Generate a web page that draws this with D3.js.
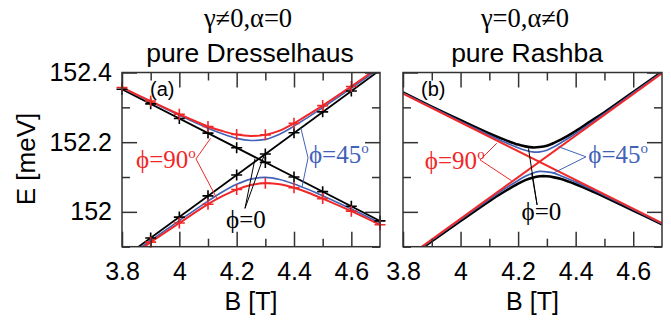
<!DOCTYPE html>
<html>
<head>
<meta charset="utf-8">
<script src="https://cdn.jsdelivr.net/npm/d3@7/dist/d3.min.js"></script>
<style>
  body { margin: 0; background: #fff; }
</style>
</head>
<body>
<div id="chart"></div>
<script>
// ---- data ----
const xMajor = [3.8, 4.0, 4.2, 4.4, 4.6];
const xMinor = [3.9, 4.1, 4.3, 4.5];
const yMajor = [152, 152.2, 152.4];
const yMinor = [151.9, 152.1, 152.3];

// panel (a): pure Dresselhaus
const bGridA = [3.8, 3.9, 4.0, 4.1, 4.15, 4.2, 4.25, 4.3, 4.35, 4.4, 4.45, 4.5, 4.6, 4.7];
const dressRedUpper  = [152.357, 152.318, 152.280, 152.245, 152.232, 152.222, 152.218, 152.221, 152.233, 152.254, 152.279, 152.305, 152.360, 152.418];
const dressRedLower  = [151.855, 151.913, 151.968, 152.022, 152.045, 152.064, 152.077, 152.082, 152.079, 152.069, 152.055, 152.038, 152.002, 151.963];
const dressBlueUpper = [152.356, 152.316, 152.277, 152.240, 152.224, 152.211, 152.205, 152.208, 152.223, 152.246, 152.272, 152.299, 152.355, 152.413];
const dressBlueLower = [151.859, 151.918, 151.975, 152.031, 152.057, 152.079, 152.094, 152.099, 152.093, 152.080, 152.064, 152.046, 152.008, 151.968];
const lineEndsB = [3.8, 4.7];
const dressBlackDown = [152.352, 151.974];
const dressBlackUp   = [151.865, 152.407];

const markB = [3.8, 3.9, 4.0, 4.1, 4.2, 4.3, 4.4, 4.5, 4.6, 4.7];
const markBlackDown = [152.352, 152.310, 152.268, 152.226, 152.184, 152.142, 152.100, 152.058, 152.016, 151.974];
const markBlackUp   = [151.865, 151.925, 151.985, 152.046, 152.106, 152.166, 152.227, 152.287, 152.347, 152.407];
const markRedUpper  = [152.357, 152.318, 152.280, 152.245, 152.222, 152.221, 152.254, 152.305, 152.360, 152.418];
const markRedLower  = [151.855, 151.913, 151.968, 152.022, 152.064, 152.082, 152.069, 152.038, 152.002, 151.963];

// panel (b): pure Rashba
const bGridB = [3.8, 3.9, 4.0, 4.1, 4.15, 4.2, 4.225, 4.25, 4.275, 4.3, 4.325, 4.35, 4.4, 4.45, 4.5, 4.6, 4.7];
const rashBlackUpper = [152.343, 152.302, 152.263, 152.225, 152.208, 152.193, 152.188, 152.185, 152.186, 152.190, 152.198, 152.208, 152.232, 152.259, 152.286, 152.344, 152.402];
const rashBlackLower = [151.857, 151.916, 151.974, 152.031, 152.057, 152.081, 152.091, 152.098, 152.102, 152.102, 152.099, 152.094, 152.079, 152.062, 152.043, 152.004, 151.964];
const rashBlueUpper  = [152.341, 152.300, 152.259, 152.220, 152.201, 152.184, 152.177, 152.172, 152.172, 152.177, 152.187, 152.199, 152.225, 152.253, 152.282, 152.341, 152.400];
const rashBlueLower  = [151.859, 151.919, 151.978, 152.036, 152.064, 152.090, 152.102, 152.111, 152.116, 152.115, 152.111, 152.103, 152.086, 152.067, 152.047, 152.007, 151.966];
const rashRedDown = [152.339, 151.968];
const rashRedUp   = [151.861, 152.398];

// ---- layout ----
const W = 671, H = 322;
const RED = "#f02828", BLUE = "#4262b8", BLACK = "#000";
const SANS = "'Liberation Sans', Arial, Helvetica, sans-serif";
const SERIF = "'Liberation Serif', 'Times New Roman', 'DejaVu Serif', serif";

const svg = d3.select("#chart").append("svg")
  .attr("width", W).attr("height", H)
  .style("font-family", SANS);

const y = d3.scaleLinear().domain([151.9, 152.4]).range([246.7, 72.5]);
const xA = d3.scaleLinear().domain([3.8, 4.7]).range([122, 380]);
const xB = d3.scaleLinear().domain([3.8, 4.7]).range([403, 662]);

function drawAxes(x, showYLabels) {
  const [x0, x1] = x.range();
  const yBot = y.range()[0], yTop = y.range()[1];
  const g = svg.append("g");
  const tidy = sel => {
    sel.select(".domain").remove();
    sel.selectAll(".tick line").attr("stroke", "#333").attr("stroke-width", 1.5);
    sel.attr("font-family", SANS).attr("font-size", 25);
    sel.selectAll(".tick text").attr("fill", "#000");
  };
  const none = () => "";

  g.append("g").attr("transform", `translate(0,${yBot})`)
    .call(d3.axisBottom(x).tickValues(xMinor).tickSizeInner(-8).tickSizeOuter(0).tickFormat(none)).call(tidy);
  g.append("g").attr("transform", `translate(0,${yBot})`)
    .call(d3.axisBottom(x).tickValues(xMajor).tickSizeInner(-15).tickSizeOuter(0)
      .tickPadding(15.5).tickFormat(d3.format("~g"))).call(tidy);
  g.append("g").attr("transform", `translate(0,${yTop})`)
    .call(d3.axisTop(x).tickValues(xMinor).tickSizeInner(-8).tickSizeOuter(0).tickFormat(none)).call(tidy);
  g.append("g").attr("transform", `translate(0,${yTop})`)
    .call(d3.axisTop(x).tickValues(xMajor).tickSizeInner(-15).tickSizeOuter(0).tickFormat(none)).call(tidy);

  g.append("g").attr("transform", `translate(${x0},0)`)
    .call(d3.axisLeft(y).tickValues(yMinor).tickSizeInner(-8).tickSizeOuter(0).tickFormat(none)).call(tidy);
  g.append("g").attr("transform", `translate(${x0},0)`)
    .call(d3.axisLeft(y).tickValues(yMajor).tickSizeInner(-15).tickSizeOuter(0)
      .tickPadding(10).tickFormat(showYLabels ? d3.format("~g") : none)).call(tidy);
  g.append("g").attr("transform", `translate(${x1},0)`)
    .call(d3.axisRight(y).tickValues(yMinor).tickSizeInner(-8).tickSizeOuter(0).tickFormat(none)).call(tidy);
  g.append("g").attr("transform", `translate(${x1},0)`)
    .call(d3.axisRight(y).tickValues(yMajor).tickSizeInner(-15).tickSizeOuter(0).tickFormat(none)).call(tidy);

  g.append("rect")
    .attr("x", x0).attr("y", yTop)
    .attr("width", x1 - x0).attr("height", yBot - yTop)
    .attr("fill", "none").attr("stroke", "#333").attr("stroke-width", 1.5);

  svg.append("text")
    .attr("x", (x0 + x1) / 2).attr("y", 310)
    .attr("text-anchor", "middle").attr("font-size", 25)
    .text("B [T]");
}

function makeClip(id, x) {
  const [x0, x1] = x.range();
  svg.append("clipPath").attr("id", id).append("rect")
    .attr("x", x0).attr("y", y.range()[1])
    .attr("width", x1 - x0).attr("height", y.range()[0] - y.range()[1]);
  return svg.append("g").attr("clip-path", `url(#${id})`);
}

function curve(g, x, bs, es, color, width) {
  const line = d3.line()
    .x((d, i) => x(bs[i]))
    .y(d => y(d))
    .curve(d3.curveCatmullRom.alpha(0.5));
  g.append("path").datum(es)
    .attr("d", line)
    .attr("fill", "none").attr("stroke", color)
    .attr("stroke-width", width).attr("stroke-linejoin", "round");
}

function plusMarks(x, bs, es, color) {
  const [lo, hi] = y.domain();
  const pts = bs.map((b, i) => [b, es[i]]).filter(p => p[1] >= lo && p[1] <= hi);
  const s = 5.5;
  svg.append("g").selectAll("path").data(pts).join("path")
    .attr("d", p => {
      const cx = x(p[0]), cy = y(p[1]);
      return `M${cx - s},${cy}H${cx + s}M${cx},${cy - s}V${cy + s}`;
    })
    .attr("stroke", color).attr("stroke-width", 1.6).attr("fill", "none");
}

function label(x, b, e, color, main, deg) {
  const t = svg.append("text")
    .attr("x", x(b)).attr("y", y(e))
    .attr("font-family", SERIF).attr("font-size", 25)
    .attr("fill", color)
    .text(main);
  if (deg) {
    t.append("tspan").attr("font-size", 15).attr("dy", -10).text("o");
  }
}

function pointer(x, from, ends, color) {
  const g = svg.append("g");
  ends.forEach(e => {
    g.append("line")
      .attr("x1", x(from[0])).attr("y1", y(from[1]))
      .attr("x2", x(e[0])).attr("y2", y(e[1]))
      .attr("stroke", color).attr("stroke-width", 1);
  });
}

// ---- panel (a) ----
const gA = makeClip("clipA", xA);
curve(gA, xA, lineEndsB, dressBlackDown, BLACK, 1.8);
curve(gA, xA, lineEndsB, dressBlackUp, BLACK, 1.8);
curve(gA, xA, bGridA, dressBlueUpper, BLUE, 1.6);
curve(gA, xA, bGridA, dressBlueLower, BLUE, 1.6);
curve(gA, xA, bGridA, dressRedUpper, RED, 2);
curve(gA, xA, bGridA, dressRedLower, RED, 2);
plusMarks(xA, markB, markBlackDown, BLACK);
plusMarks(xA, markB, markBlackUp, BLACK);
plusMarks(xA, markB, markRedUpper, RED);
plusMarks(xA, markB, markRedLower, RED);
drawAxes(xA, true);

pointer(xA, [4.058, 152.152], [[4.109, 152.211], [4.130, 152.040]], RED);
pointer(xA, [4.449, 152.155], [[4.424, 152.240], [4.428, 152.071]], BLUE);
pointer(xA, [4.229, 152.010], [[4.264, 152.153], [4.297, 152.165]], BLACK);
label(xA, 3.849, 152.126, RED, "\u03D5=90", true);
label(xA, 4.452, 152.141, BLUE, "\u03D5=45", true);
label(xA, 4.163, 151.955, BLACK, "\u03D5=0", false);

svg.append("text").attr("x", 150).attr("y", 96)
  .attr("font-size", 20).text("(a)");

// ---- panel (b) ----
const gB = makeClip("clipB", xB);
curve(gB, xB, bGridB, rashBlackUpper, BLACK, 2.6);
curve(gB, xB, bGridB, rashBlackLower, BLACK, 2.6);
curve(gB, xB, bGridB, rashBlueUpper, BLUE, 1.7);
curve(gB, xB, bGridB, rashBlueLower, BLUE, 1.7);
curve(gB, xB, lineEndsB, rashRedDown, RED, 2);
curve(gB, xB, lineEndsB, rashRedUp, RED, 2);
drawAxes(xB, false);

pointer(xB, [4.068, 152.149], [[4.126, 152.197], [4.178, 152.089]], RED);
pointer(xB, [4.436, 152.158], [[4.340, 152.187], [4.322, 152.111]], BLUE);
pointer(xB, [4.266, 152.020], [[4.236, 152.182], [4.247, 152.111]], BLACK);
label(xB, 3.876, 152.123, RED, "\u03D5=90", true);
label(xB, 4.444, 152.140, BLUE, "\u03D5=45", true);
label(xB, 4.212, 151.977, BLACK, "\u03D5=0", false);

svg.append("text").attr("x", 421).attr("y", 96)
  .attr("font-size", 20).text("(b)");

// ---- titles and y label ----
svg.append("text").attr("x", 248).attr("y", 27)
  .attr("text-anchor", "middle").attr("font-family", SERIF).attr("font-size", 26.5)
  .text("\u03B3\u22600,\u03B1=0");
svg.append("text").attr("x", 250).attr("y", 62)
  .attr("text-anchor", "middle").attr("font-size", 26.5)
  .text("pure Dresselhaus");
svg.append("text").attr("x", 525).attr("y", 27)
  .attr("text-anchor", "middle").attr("font-family", SERIF).attr("font-size", 26.5)
  .text("\u03B3=0,\u03B1\u22600");
svg.append("text").attr("x", 527).attr("y", 62)
  .attr("text-anchor", "middle").attr("font-size", 26.5)
  .text("pure Rashba");

svg.append("text")
  .attr("transform", "translate(35,159) rotate(-90)")
  .attr("text-anchor", "middle").attr("font-size", 26)
  .text("E [meV]");
</script>
</body>
</html>
